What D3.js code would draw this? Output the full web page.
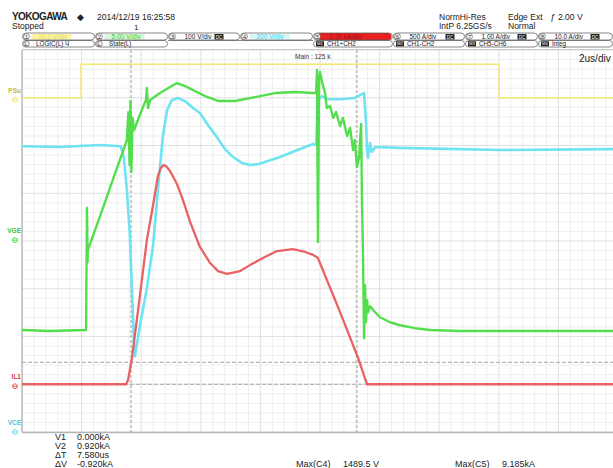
<!DOCTYPE html>
<html>
<head>
<meta charset="utf-8">
<script src="https://cdn.jsdelivr.net/npm/d3@7"></script>
<style>
  body { margin: 0; background: #fff; }
  svg { display: block; }
  text { font-family: "Liberation Sans", Arial, sans-serif; }
</style>
</head>
<body>
<svg id="scope" width="613" height="468"></svg>
<script>
// ---- Acquisition: 2 us/div, 10 divisions ----
const timeRange = [0, 20];               // µs across the screen
const cursorTimes = [3.66, 11.24];       // vertical cursors (µs)
const cursorCurrents = [0.000, 0.920];   // horizontal cursors on IL1 (kA)

// ---- CH1  PSu : gate command (V) ----
const psuTrace = [[0, 0], [1.98, 14], [16.01, 0], [20, 0]];

// ---- CH2  VGE : gate-emitter voltage (V) ----
const vgeTrace = [
  [0, -9.62], [0.94, -9.73], [2.15, -9.62], [2.18, 3.15], [2.20, -2.5], [2.21, -1.25],
  [2.62, 2.31], [3.02, 5.87], [3.46, 9.74], [3.52, 10.27], [3.57, 13.2], [3.61, 7.66],
  [3.64, 14.36], [3.67, 6.92], [3.71, 12.58], [3.76, 11.3], [3.89, 12.37], [4.06, 13.73],
  [4.16, 14.46], [4.19, 15.72], [4.23, 13.62], [4.30, 14.46], [4.63, 15.19], [4.97, 15.82],
  [5.20, 16.24], [5.47, 15.93], [5.81, 15.4], [6.14, 14.88], [6.58, 14.36], [7.15, 14.36],
  [7.82, 14.77], [8.49, 15.19], [9.16, 15.3], [9.77, 15.19], [9.87, 15.19], [9.90, 17.6],
  [9.93, -0.41], [9.97, 16.76], [10.0, 17.39], [10.07, 16.34], [10.17, 15.19], [10.23, 13.62],
  [10.34, 13.83], [10.44, 12.58], [10.54, 13.2], [10.67, 11.74], [10.77, 12.58], [10.91, 10.69],
  [11.01, 11.53], [11.11, 9.22], [11.17, 10.27], [11.24, 7.44], [11.31, 8.39], [11.38, 11.95],
  [11.41, 3.47], [11.44, -1.25], [11.48, -10.47], [11.51, -4.93], [11.54, -8.81], [11.58, -6.5],
  [11.61, -7.76], [11.68, -7.13], [11.85, -7.76], [12.01, -8.28], [12.35, -8.81], [12.68, -9.12],
  [13.19, -9.43], [13.69, -9.62], [14.70, -9.73], [20, -9.73]
];

// ---- CH4  VCE : collector-emitter voltage (V) ----
const vceTrace = [
  [0, 1267], [1.28, 1264], [2.62, 1272], [3.32, 1267], [3.42, 1217], [3.52, 1083],
  [3.62, 894], [3.69, 664], [3.76, 433], [3.79, 387], [3.96, 517], [4.19, 672],
  [4.40, 852], [4.56, 1083], [4.73, 1313], [4.87, 1418], [5.03, 1460], [5.23, 1469],
  [5.47, 1456], [5.74, 1427], [5.97, 1406], [6.24, 1356], [6.54, 1305], [6.81, 1255],
  [7.08, 1222], [7.38, 1197], [7.65, 1188], [7.92, 1192], [8.15, 1201], [8.66, 1222],
  [9.16, 1247], [9.77, 1276], [9.87, 1272], [9.93, 1460], [10.07, 1477], [10.23, 1464],
  [10.67, 1464], [11.17, 1469], [11.34, 1481], [11.48, 1489.5], [11.54, 1376], [11.58, 1251],
  [11.61, 1218], [11.68, 1280], [11.74, 1243], [11.85, 1264], [12.68, 1260], [16.04, 1251],
  [20, 1255]
];

// ---- CH5  IL1 : load current (kA) ----
const il1Trace = [
  [0, 0], [3.49, 0], [3.56, 0.18], [3.69, 1.10], [3.96, 3.74], [4.19, 6.04], [4.40, 7.51],
  [4.56, 8.72], [4.66, 9.06], [4.75, 9.185], [4.83, 9.14], [4.97, 8.93], [5.20, 8.39],
  [5.40, 7.72], [5.64, 6.80], [5.97, 5.75], [6.31, 5.08], [6.58, 4.74], [6.88, 4.62],
  [7.32, 4.74], [7.65, 4.99], [8.15, 5.33], [8.56, 5.58], [9.09, 5.66], [9.50, 5.54],
  [9.77, 5.42], [9.93, 5.29], [10.67, 3.03], [11.28, 1.10], [11.48, 0.35], [11.58, 0], [20, 0]
];

// ---- Header / readout text ----
const channelSettings = ["20.0 V/div", "5.00 V/div", "100 V/div", "200 V/div", "2.00 kA/div", "500 A/div", "1.00 A/div", "10.0 A/div"];
const mathSettings = ["CH1+CH2", "CH1-CH2", "CH5-CH6", "Integ"];
const cursorReadout = [["V1", "0.000kA"], ["V2", "0.920kA"], ["ΔT", "7.580us"], ["ΔV", "-0.920kA"]];
const measureReadout = [["Max(C4)", "1489.5 V"], ["Max(C5)", "9.185kA"]];

// ---------------------------------------------------------------
const svg = d3.select("#scope");
const plot = { left: 22, right: 618, top: 50, bottom: 432 };

const x = d3.scaleLinear().domain(timeRange).range([plot.left, plot.right]);
const div = d3.scaleLinear().domain([-4, 4]).range([plot.bottom, plot.top]);

const channels = [
  { name: "PSu", data: psuTrace, perDiv: 20,  pos: 3.0,   color: "#f3e66a", label: "#cdbb2a", width: 1.5, curve: d3.curveStepAfter },
  { name: "VCE", data: vceTrace, perDiv: 200, pos: -4.35, color: "#66e1f0", label: "#3fc9e0", width: 2.6, curve: d3.curveLinear },
  { name: "IL1", data: il1Trace, perDiv: 2,   pos: -3.0,  color: "#e85b5d", label: "#d83a3a", width: 2.3, curve: d3.curveLinear },
  { name: "VGE", data: vgeTrace, perDiv: 5,   pos: 0.06,  color: "#4bdc45", label: "#39c236", width: 2.4, curve: d3.curveLinear }
];
channels.forEach(c => {
  c.y = d3.scaleLinear().domain([(-4 - c.pos) * c.perDiv, (4 - c.pos) * c.perDiv]).range([plot.bottom, plot.top]);
});
const il1 = channels.find(c => c.name === "IL1");

// ---- Graticule ----
svg.append("defs").append("clipPath").attr("id", "screen")
  .append("rect").attr("x", plot.left).attr("y", plot.top)
  .attr("width", plot.right - plot.left).attr("height", plot.bottom - plot.top);

const grid = svg.append("g").attr("clip-path", "url(#screen)");
const minorX = d3.range(0, 20.001, 0.4);
const minorY = d3.range(-4, 4.001, 0.2);
grid.selectAll("line.mx").data(minorX).join("line")
  .attr("x1", d => x(d)).attr("x2", d => x(d)).attr("y1", plot.top).attr("y2", plot.bottom)
  .attr("stroke", d => Math.abs(d / 2 - Math.round(d / 2)) < 1e-6 ? "#d9d9d9" : "#ebebeb")
  .attr("stroke-width", 0.8);
grid.selectAll("line.my").data(minorY).join("line")
  .attr("y1", d => div(d)).attr("y2", d => div(d)).attr("x1", plot.left).attr("x2", plot.right)
  .attr("stroke", d => Math.abs(d - Math.round(d)) < 1e-6 ? "#d9d9d9" : "#ebebeb")
  .attr("stroke-width", 0.8);

// frame
svg.append("line").attr("x1", plot.left).attr("x2", plot.left).attr("y1", plot.top).attr("y2", plot.bottom)
  .attr("stroke", "#9a9a9a").attr("stroke-width", 1);
svg.append("line").attr("x1", plot.left).attr("x2", 613).attr("y1", plot.bottom + 0.5).attr("y2", plot.bottom + 0.5)
  .attr("stroke", "#b5b5b5").attr("stroke-width", 1.6);
svg.append("line").attr("x1", plot.left).attr("x2", 613).attr("y1", plot.top - 0.5).attr("y2", plot.top - 0.5)
  .attr("stroke", "#c8c8c8").attr("stroke-width", 1);

// ---- Cursors ----
const cur = svg.append("g").attr("clip-path", "url(#screen)");
cur.selectAll("line.vc").data(cursorTimes).join("line")
  .attr("x1", d => x(d)).attr("x2", d => x(d)).attr("y1", plot.top).attr("y2", plot.bottom)
  .attr("stroke", "#9c9c9c").attr("stroke-width", 1).attr("stroke-dasharray", "3,2");
cur.selectAll("line.hc").data(cursorCurrents).join("line")
  .attr("y1", d => il1.y(d)).attr("y2", d => il1.y(d)).attr("x1", plot.left).attr("x2", plot.right)
  .attr("stroke", "#a8a8a8").attr("stroke-width", 1).attr("stroke-dasharray", "4,2");

// ---- Traces ----
const traces = svg.append("g").attr("clip-path", "url(#screen)");
channels.forEach(c => {
  const line = d3.line().x(d => x(d[0])).y(d => c.y(d[1])).curve(c.curve);
  traces.append("path").datum(c.data)
    .attr("d", line).attr("fill", "none")
    .attr("stroke", c.color).attr("stroke-width", c.width)
    .attr("stroke-linejoin", "round").attr("stroke-opacity", 0.95);
});

// ---- Channel ground markers on the left edge ----
const markers = svg.append("g");
channels.forEach(c => {
  const y0 = Math.max(plot.top + 4, Math.min(plot.bottom - 2, c.y(0)));
  markers.append("text").attr("x", 21).attr("y", y0 - 5).attr("text-anchor", "end")
    .attr("font-size", 6.5).attr("font-weight", "bold").attr("fill", c.label).text(c.name);
  markers.append("circle").attr("cx", 15).attr("cy", y0 + 2).attr("r", 2.4)
    .attr("fill", "none").attr("stroke", c.color).attr("stroke-width", 1);
  markers.append("line").attr("x1", 12).attr("x2", 18).attr("y1", y0 + 2).attr("y2", y0 + 2)
    .attr("stroke", c.color).attr("stroke-width", 1);
});

// ---- Screen annotations ----
svg.append("text").attr("x", 295).attr("y", 59).attr("font-size", 6.5).attr("fill", "#333").text("Main : 125 k");
svg.append("text").attr("x", 579).attr("y", 62).attr("font-size", 10).attr("fill", "#222").text("2us/div");

// ---- Header ----
const hdr = svg.append("g").attr("fill", "#222");
hdr.append("text").attr("x", 12).attr("y", 20).attr("font-size", 10).attr("font-weight", "bold")
  .attr("letter-spacing", -0.6).text("YOKOGAWA");
hdr.append("text").attr("x", 77).attr("y", 20).attr("font-size", 9).text("◆");
hdr.append("text").attr("x", 97).attr("y", 20).attr("font-size", 8.5).text("2014/12/19 16:25:58");
hdr.append("text").attr("x", 12).attr("y", 29).attr("font-size", 8.5).text("Stopped");
hdr.append("text").attr("x", 134).attr("y", 30).attr("font-size", 8).text("1");
hdr.append("text").attr("x", 439).attr("y", 20).attr("font-size", 8.5).text("NormHi-Res");
hdr.append("text").attr("x", 508).attr("y", 20).attr("font-size", 8.5).text("Edge Ext");
hdr.append("text").attr("x", 550).attr("y", 20).attr("font-size", 9).attr("font-style", "italic").text("ƒ");
hdr.append("text").attr("x", 558).attr("y", 20).attr("font-size", 8.5).text("2.00 V");
hdr.append("text").attr("x", 439).attr("y", 29).attr("font-size", 8.5).text("IntP 6.25GS/s");
hdr.append("text").attr("x", 508).attr("y", 29).attr("font-size", 8.5).text("Normal");

// channel setting boxes
const boxEdges = [22, 95, 168, 240, 313, 393, 465, 538, 613];
const chColors = ["#e8d94a", "#3ccf3a", "#222", "#3fd3e6", "#a01010", "#222", "#222", "#222"];
const row3 = svg.append("g");
channelSettings.forEach((s, i) => {
  const x0 = boxEdges[i] + 0.5, x1 = boxEdges[i + 1] - 0.5;
  const g = row3.append("g");
  if (i === 4) {
    g.append("rect").attr("x", x0 + 4).attr("y", 33).attr("width", x1 - x0 - 5).attr("height", 7)
      .attr("rx", 3.5).attr("fill", "#ea1f1f");
  }
  if (i === 0) {
    g.append("rect").attr("x", x0 + 9).attr("y", 34).attr("width", 40).attr("height", 5.5).attr("fill", "#fbf4a8");
  }
  if (i === 1) {
    g.append("rect").attr("x", x0 + 9).attr("y", 34).attr("width", 40).attr("height", 5.5).attr("fill", "#d9f7d4");
  }
  if (i === 3) {
    g.append("rect").attr("x", x0 + 9).attr("y", 34).attr("width", 40).attr("height", 5.5).attr("fill", "#d8f7fb");
  }
  g.append("rect").attr("x", x0).attr("y", 33).attr("width", x1 - x0).attr("height", 7)
    .attr("rx", 3.5).attr("fill", "none").attr("stroke", "#555").attr("stroke-width", 0.7);
  g.append("circle").attr("cx", x0 + 4).attr("cy", 36.5).attr("r", 2.9).attr("fill", "#fff").attr("stroke", "#444").attr("stroke-width", 0.6);
  g.append("text").attr("x", x0 + 4).attr("y", 38.6).attr("text-anchor", "middle").attr("font-size", 5.5).attr("fill", "#222").text(i + 1);
  g.append("text").attr("x", x0 + 16).attr("y", 39).attr("font-size", 6.5)
    .attr("fill", chColors[i]).text(s);
  if (i === 2 || i >= 5) {
    const tx = x0 + 16 + (i === 2 ? 30 : 36);
    g.append("rect").attr("x", tx).attr("y", 34).attr("width", 9).attr("height", 5.5).attr("fill", "#222");
    g.append("text").attr("x", tx + 4.5).attr("y", 38.5).attr("text-anchor", "middle").attr("font-size", 4.5).attr("fill", "#fff").text("DC");
  }
});

// logic / math boxes
const row4 = svg.append("g");
const row4Items = [
  { x0: 22, x1: 95, tag: "L", text: "LOGIC(L)  Ч", dark: false },
  { x0: 95, x1: 168, tag: "L", text: "State(L)", dark: false },
  { x0: 313, x1: 393, tag: "M1", text: mathSettings[0], dark: true },
  { x0: 393, x1: 465, tag: "M2", text: mathSettings[1], dark: true },
  { x0: 465, x1: 538, tag: "M3", text: mathSettings[2], dark: true },
  { x0: 538, x1: 613, tag: "M4", text: mathSettings[3], dark: true }
];
row4Items.forEach(b => {
  const g = row4.append("g");
  g.append("rect").attr("x", b.x0 + 0.5).attr("y", 40.5).attr("width", b.x1 - b.x0 - 1).attr("height", 6.5)
    .attr("rx", 3.2).attr("fill", "none").attr("stroke", "#555").attr("stroke-width", 0.7);
  if (b.dark) {
    g.append("rect").attr("x", b.x0 + 3).attr("y", 41.3).attr("width", 8).attr("height", 5).attr("fill", "#222");
    g.append("text").attr("x", b.x0 + 7).attr("y", 45.3).attr("text-anchor", "middle").attr("font-size", 4.2).attr("fill", "#fff").text(b.tag);
  } else {
    g.append("circle").attr("cx", b.x0 + 4.5).attr("cy", 43.8).attr("r", 2.7).attr("fill", "#fff").attr("stroke", "#444").attr("stroke-width", 0.6);
    g.append("text").attr("x", b.x0 + 4.5).attr("y", 45.8).attr("text-anchor", "middle").attr("font-size", 5).attr("fill", "#222").text(b.tag);
  }
  g.append("text").attr("x", b.x0 + 14).attr("y", 46.3).attr("font-size", 6.3).attr("fill", "#222").text(b.text);
});
row4.append("line").attr("x1", 168).attr("x2", 313).attr("y1", 40.5).attr("y2", 40.5).attr("stroke", "#555").attr("stroke-width", 0.7);

// ---- Cursor and measurement readouts ----
const foot = svg.append("g").attr("fill", "#222").attr("font-size", 9);
cursorReadout.forEach((r, i) => {
  foot.append("text").attr("x", 55).attr("y", 440 + i * 9).text(r[0]);
  foot.append("text").attr("x", 77).attr("y", 440 + i * 9).text(r[1]);
});
const measX = [296, 455];
measureReadout.forEach((m, i) => {
  foot.append("text").attr("x", measX[i]).attr("y", 467).text(m[0]);
  foot.append("text").attr("x", measX[i] + 47).attr("y", 467).text(m[1]);
});
</script>
</body>
</html>
